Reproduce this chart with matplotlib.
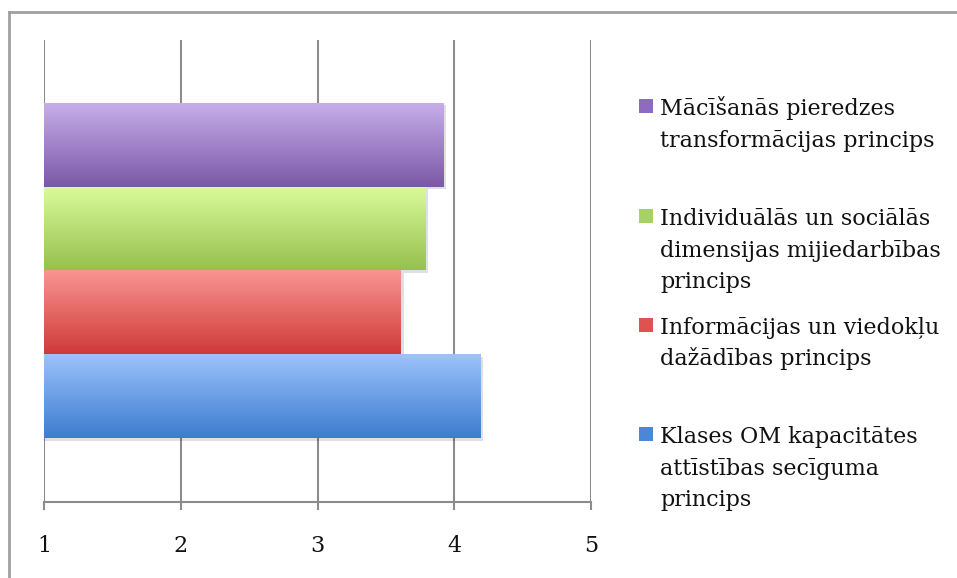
import numpy as np
import matplotlib.pyplot as plt
from matplotlib.colors import LinearSegmentedColormap
from matplotlib.patches import Rectangle
from matplotlib.lines import Line2D

# bottom to top, as drawn
labels = [
    "Klases OM kapacitātes\nattīstības secīguma\nprincips",
    "Informācijas un viedokļu\ndažādības princips",
    "Individuālās un sociālās\ndimensijas mijiedarbības\nprincips",
    "Mācīšanās pieredzes\ntransformācijas princips",
]
values = [4.19, 3.61, 3.79, 3.92]
top_colors = ["#9cc3fb", "#fa9592", "#dbfb9c", "#c7aeea"]
bottom_colors = ["#3c7ccf", "#cf3a38", "#95c14c", "#7a58a6"]
key_colors = ["#4b87d9", "#de5250", "#a5d165", "#8d6cbf"]

FONT = "DejaVu Serif"
FS = 16

fig = plt.figure(figsize=(9.57, 5.78), dpi=100)
ax = fig.add_axes([44 / 957, 76 / 578, 547 / 957, 462 / 578])

base = 1.0
for i, (v, c0, c1) in enumerate(zip(values, top_colors, bottom_colors)):
    y0, y1 = i - 0.5, i + 0.5
    # soft shadow
    ax.add_patch(Rectangle((base, y0 - 0.03), v - base + 0.02, 1.0,
                           facecolor="#000000", alpha=0.12, lw=0, zorder=2))
    bar = ax.barh(i, v - base, left=base, height=1.0, color="none", lw=0, zorder=3)[0]
    cmap = LinearSegmentedColormap.from_list("g%d" % i, [c1, c0])
    grad = np.linspace(0, 1, 256).reshape(-1, 1)
    im = ax.imshow(grad, cmap=cmap, aspect="auto", origin="lower",
                   extent=[base, v, y0, y1], zorder=3)
    im.set_clip_path(bar)

ax.set_xlim(1, 5)
ax.set_ylim(-1.264, 4.252)
ax.set_xticks([1, 2, 3, 4, 5])
ax.set_yticks([])
ax.xaxis.grid(True, color="#8c8c8c", lw=1.5, zorder=0)
ax.set_axisbelow(True)
for s in ["top", "right", "left"]:
    ax.spines[s].set_visible(False)
ax.spines["bottom"].set_color("#8c8c8c")
ax.spines["bottom"].set_linewidth(1.5)
ax.tick_params(axis="x", length=6, width=1.5, color="#8c8c8c", pad=18,
               labelsize=FS, labelcolor="#111111")
for t in ax.get_xticklabels():
    t.set_fontfamily(FONT)

# legend drawn by hand, one square per series
first_baselines = [443, 334, 225, 115]
line_step = 31.5
for lab, col, yb in zip(labels, key_colors, first_baselines):
    fig.patches.append(Rectangle((639 / 957, 1 - (yb - 2) / 578), 14 / 957, 14 / 578,
                                 transform=fig.transFigure, facecolor=col,
                                 edgecolor="none"))
    for k, line in enumerate(lab.split("\n")):
        fig.text(660 / 957, 1 - (yb + k * line_step) / 578, line,
                 fontsize=FS, family=FONT, va="baseline", ha="left", color="#111111")

# frame edges
fig.add_artist(Line2D([9 / 957, 1], [1 - 12 / 578, 1 - 12 / 578],
                      transform=fig.transFigure, color="#a0a0a0", lw=2))
fig.add_artist(Line2D([9 / 957, 9 / 957], [0, 1 - 12 / 578],
                      transform=fig.transFigure, color="#a0a0a0", lw=2))

fig.savefig("out.png", dpi=100)
